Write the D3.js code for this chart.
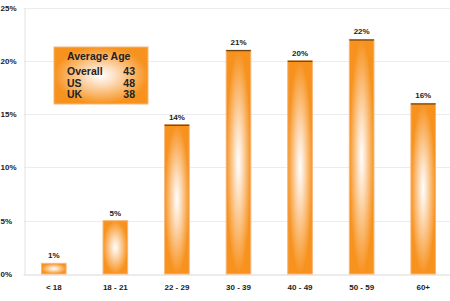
<!DOCTYPE html>
<html>
<head>
<meta charset="utf-8">
<script src="https://cdn.jsdelivr.net/npm/d3@7"></script>
<style>
  body { margin: 0; background: #fff; }
  svg { display: block; font-family: Arial, "Liberation Sans", sans-serif; }
</style>
</head>
<body>
<svg width="450" height="301"></svg>
<script>
// age groups and share of respondents (%)
const ageGroups = ['< 18', '18 - 21', '22 - 29', '30 - 39', '40 - 49', '50 - 59', '60+'];
const shares = [1, 5, 14, 21, 20, 22, 16];
const yTicks = [0, 5, 10, 15, 20, 25];

// average age box
const legendTitle = 'Average Age';
const legendRows = ['Overall', 'US', 'UK'];
const legendAges = [43, 48, 38];

const data = ageGroups.map((g, i) => ({ group: g, value: shares[i] }));

const svg = d3.select('svg');
const orange = '#f7921e';

const x = d3.scaleBand()
  .domain(ageGroups)
  .range([23, 454])
  .paddingInner(0.6)
  .paddingOuter(0.3);

const y = d3.scaleLinear()
  .domain([0, 25])
  .range([274, 7.5]);

const defs = svg.append('defs');
const grad = defs.append('radialGradient')
  .attr('id', 'barGlow')
  .attr('cx', 0.5).attr('cy', 0.5).attr('r', 0.5);
grad.append('stop').attr('offset', '0%').attr('stop-color', '#ffffff');
grad.append('stop').attr('offset', '30%').attr('stop-color', '#fde0c2');
grad.append('stop').attr('offset', '100%').attr('stop-color', orange);

// gridlines
svg.append('g')
  .selectAll('line')
  .data(yTicks.slice(1))
  .enter()
  .append('line')
  .attr('x1', 24).attr('x2', 450)
  .attr('y1', (d) => Math.round(y(d)) + 0.5)
  .attr('y2', (d) => Math.round(y(d)) + 0.5)
  .attr('stroke', '#ececec');

// y axis
const yAxis = svg.append('g')
  .attr('transform', 'translate(24.5,0)')
  .call(d3.axisLeft(y).tickValues(yTicks).tickSize(0).tickPadding(6).tickFormat((d) => d + '%'));
yAxis.select('.domain').attr('stroke', '#e2e2e2');
yAxis.selectAll('text')
  .attr('font-size', 8).attr('font-weight', 'bold').attr('fill', '#222')
  .attr('font-family', 'Arial, "Liberation Sans", sans-serif')
  .attr('text-anchor', 'start').attr('x', -24);

// x axis
const xAxis = svg.append('g')
  .attr('transform', `translate(0,${Math.round(y(0)) + 0.5})`)
  .call(d3.axisBottom(x).tickSize(0).tickPadding(10));
xAxis.select('.domain').attr('stroke', '#d8d8d8');
xAxis.selectAll('text')
  .attr('font-size', 8).attr('font-weight', 'bold').attr('fill', '#222')
  .attr('font-family', 'Arial, "Liberation Sans", sans-serif');

// bars
const bars = svg.append('g')
  .selectAll('g')
  .data(data)
  .enter()
  .append('g');

bars.append('rect')
  .attr('x', (d) => x(d.group))
  .attr('y', (d) => y(d.value))
  .attr('width', x.bandwidth())
  .attr('height', (d) => y(0) - y(d.value))
  .attr('fill', 'url(#barGlow)')
  .attr('stroke', '#f6b67a')
  .attr('stroke-width', 1);

bars.filter((d) => d.value >= 10)
  .append('line')
  .attr('x1', (d) => x(d.group))
  .attr('x2', (d) => x(d.group) + x.bandwidth())
  .attr('y1', (d) => y(d.value) + 0.5)
  .attr('y2', (d) => y(d.value) + 0.5)
  .attr('stroke', '#6b4010')
  .attr('stroke-width', 1.2);

bars.append('text')
  .attr('x', (d) => x(d.group) + x.bandwidth() / 2)
  .attr('y', (d) => y(d.value) - 5)
  .attr('text-anchor', 'middle')
  .attr('font-size', 8).attr('font-weight', 'bold').attr('fill', '#222')
  .text((d) => d.value + '%');

// average age box
const box = svg.append('g').attr('transform', 'translate(54,47)');
box.append('rect')
  .attr('width', 94).attr('height', 57)
  .attr('fill', 'url(#barGlow)')
  .attr('stroke', '#f6b67a');
box.append('text')
  .attr('x', 13).attr('y', 13)
  .attr('font-size', 10.5).attr('font-weight', 'bold').attr('fill', '#222')
  .text(legendTitle);
const rows = box.selectAll('g.row')
  .data(legendRows)
  .enter()
  .append('g')
  .attr('class', 'row')
  .attr('transform', (d, i) => `translate(0,${28 + i * 11.5})`);
rows.append('text')
  .attr('x', 13)
  .attr('font-size', 10.5).attr('font-weight', 'bold').attr('fill', '#222')
  .text((d) => d);
rows.append('text')
  .attr('x', 81).attr('text-anchor', 'end')
  .attr('font-size', 10.5).attr('font-weight', 'bold').attr('fill', '#222')
  .text((d, i) => legendAges[i]);
</script>
</body>
</html>
